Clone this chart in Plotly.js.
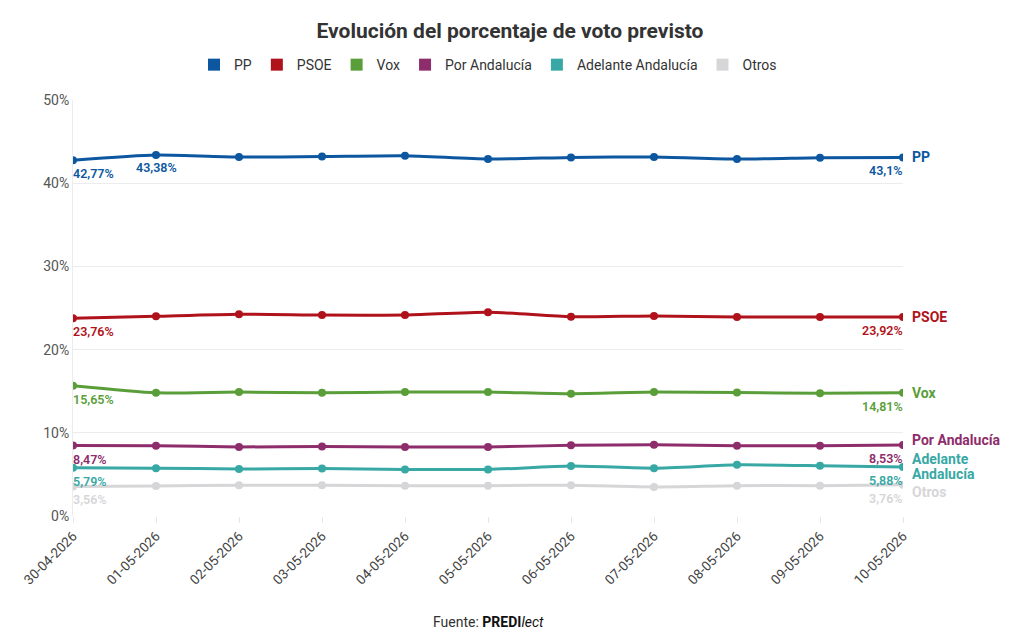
<!DOCTYPE html>
<html>
<head>
<meta charset="utf-8">
<script src="https://cdn.plot.ly/plotly-3.0.1.min.js"></script>
<style>html,body{margin:0;padding:0;background:#fff;}#chart{width:1020px;height:644px;}</style>
</head>
<body>
<div id="chart"></div>
<script>
const dates = ["30-04-2026","01-05-2026","02-05-2026","03-05-2026","04-05-2026","05-05-2026","06-05-2026","07-05-2026","08-05-2026","09-05-2026","10-05-2026"];
const pp = [42.77, 43.38, 43.15, 43.2, 43.3, 42.9, 43.1, 43.15, 42.9, 43.05, 43.1];
const psoe = [23.76, 24.0, 24.25, 24.15, 24.15, 24.5, 23.95, 24.05, 23.92, 23.92, 23.92];
const vox = [15.65, 14.8, 14.9, 14.8, 14.9, 14.9, 14.7, 14.9, 14.85, 14.75, 14.81];
const porAndalucia = [8.47, 8.45, 8.3, 8.35, 8.3, 8.3, 8.5, 8.55, 8.45, 8.45, 8.53];
const adelante = [5.79, 5.75, 5.65, 5.7, 5.6, 5.6, 6.0, 5.75, 6.15, 6.05, 5.88];
const otros = [3.56, 3.6, 3.7, 3.7, 3.65, 3.65, 3.7, 3.5, 3.65, 3.65, 3.76];
const yTicks = [0, 10, 20, 30, 40, 50];

const series = [
  {name: "PP", label: ["PP"], data: pp, color: "#0d57a1", endShift: 0, extra: [1]},
  {name: "PSOE", label: ["PSOE"], data: psoe, color: "#b0121b", endShift: 0, extra: []},
  {name: "Vox", label: ["Vox"], data: vox, color: "#5a9e3a", endShift: 0, extra: []},
  {name: "Por Andalucía", label: ["Por Andalucía"], data: porAndalucia, color: "#8e2d6b", endShift: 5, extra: []},
  {name: "Adelante Andalucía", label: ["Adelante", "Andalucía"], data: adelante, color: "#38a8a5", endShift: 1, extra: []},
  {name: "Otros", label: ["Otros"], data: otros, color: "#d6d6d8", endShift: -7, extra: []}
];

const fmt = v => String(v).replace('.', ',') + '%';
const FONT = "Roboto, 'Noto Sans', sans-serif";

const traces = [];
const annotations = [];
const last = dates.length - 1;
series.forEach(s => {
  traces.push({
    x: dates, y: s.data, name: s.name, type: 'scatter', mode: 'lines+markers',
    line: {color: s.color, width: 3, shape: 'spline', smoothing: 0.6},
    marker: {color: s.color, size: 8},
    showlegend: false, hoverinfo: 'x+y+name'
  });
  traces.push({
    x: [null], y: [null], name: s.name, type: 'scatter', mode: 'markers',
    marker: {color: s.color, size: 12, symbol: 'square'},
    showlegend: true
  });
  annotations.push({x: dates[0], y: s.data[0], xref: 'x', yref: 'y', text: fmt(s.data[0]),
    showarrow: false, xanchor: 'left', yanchor: 'top', yshift: -4, xshift: -2,
    font: {family: FONT, size: 12.5, color: s.color, weight: 600}});
  s.extra.forEach(i => {
    annotations.push({x: dates[i], y: s.data[i], xref: 'x', yref: 'y', text: fmt(s.data[i]),
      showarrow: false, xanchor: 'center', yanchor: 'top', yshift: -3,
      font: {family: FONT, size: 12.5, color: s.color, weight: 600}});
  });
  annotations.push({x: dates[last], y: s.data[last], xref: 'x', yref: 'y', text: fmt(s.data[last]),
    showarrow: false, xanchor: 'right', yanchor: 'top', yshift: -4, xshift: 2,
    font: {family: FONT, size: 12.5, color: s.color, weight: 600}});
  const n = s.label.length;
  s.label.forEach((line, k) => {
    const off = (n - 1) / 2 * 15 - k * 15;
    annotations.push({x: dates[last], y: s.data[last], xref: 'x', yref: 'y', text: line,
      showarrow: false, xanchor: 'left', yanchor: 'middle', xshift: 8, yshift: s.endShift + off,
      align: 'left', borderpad: 0,
      font: {family: FONT, size: 14, color: s.color, weight: 700}});
  });
});

annotations.push({x: 0.5, y: 0, xref: 'paper', yref: 'paper', yanchor: 'top', yshift: -96,
  xanchor: 'center', showarrow: false,
  text: "Fuente: <b style='color:#111'>PREDI</b><i style='color:#111'>lect</i>",
  font: {family: FONT, size: 14, color: '#333'}});

const layout = {
  width: 1020, height: 644,
  paper_bgcolor: '#fff', plot_bgcolor: '#fff',
  margin: {l: 73, r: 117, t: 100, b: 128},
  title: {text: "<b>Evolución del porcentaje de voto previsto</b>", x: 0.5, xanchor: 'center',
    y: 0.953, yanchor: 'middle', font: {family: FONT, size: 21, color: '#333'}},
  legend: {orientation: 'h', x: 0.5, xanchor: 'center', y: 1.084, yanchor: 'middle',
    font: {family: FONT, size: 14, color: '#333'}, itemwidth: 30, tracegroupgap: 0},
  xaxis: {type: 'category', tickangle: -45, showgrid: false, zeroline: false,
    ticks: 'outside', ticklen: 6, tickcolor: '#e6e6e6', showline: false,
    tickfont: {family: FONT, size: 13.5, color: '#444'}, range: [0, last], automargin: false},
  yaxis: {range: [0, 50], tickvals: yTicks, ticktext: yTicks.map(v => v + '%'),
    gridcolor: '#ececec', zeroline: false, showline: true, linecolor: '#ececec',
    tickfont: {family: FONT, size: 14, color: '#555'}, ticks: '', automargin: false},
  annotations: annotations
};

Plotly.newPlot('chart', traces, layout, {displayModeBar: false, responsive: false});
</script>
</body>
</html>
